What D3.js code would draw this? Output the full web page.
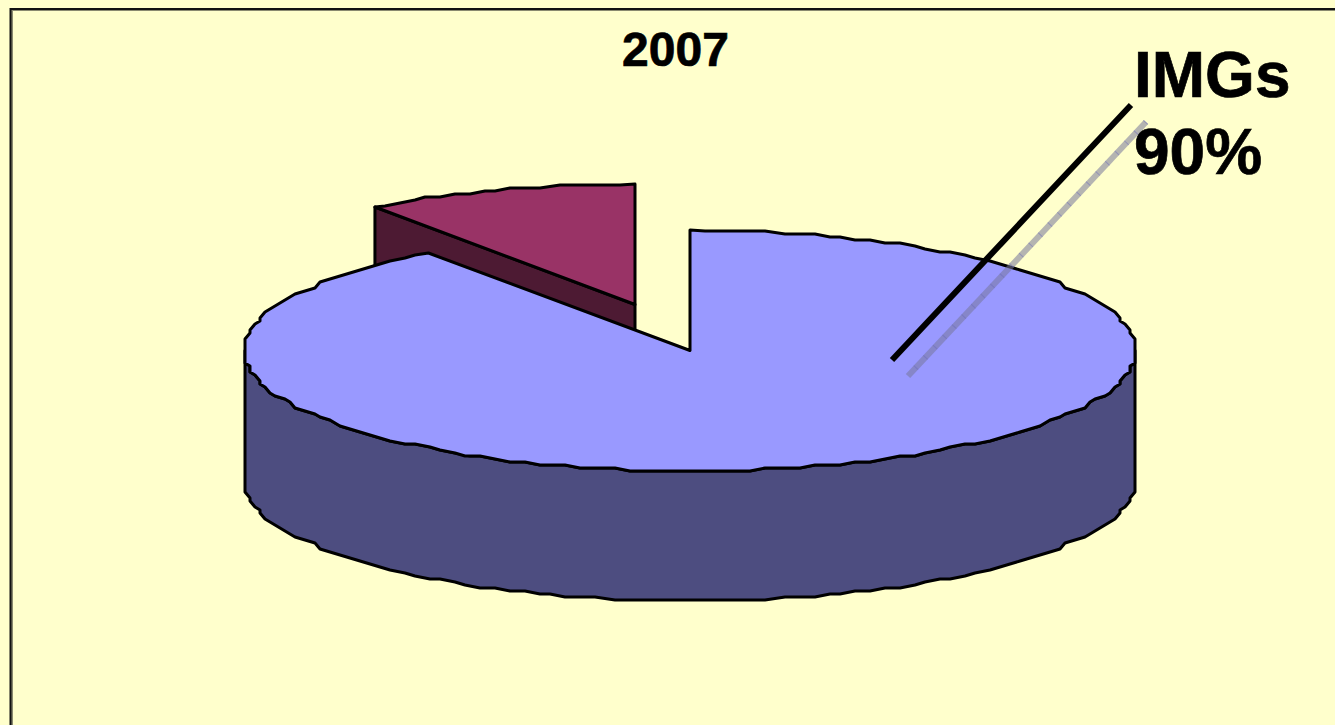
<!DOCTYPE html>
<html>
<head>
<meta charset="utf-8">
<style>
html,body{margin:0;padding:0;background:#FFFFCC;overflow:hidden}
svg{display:block}
text{font-family:"Liberation Sans",Arial,sans-serif;font-weight:bold;fill:#000;stroke:#000;stroke-width:.7px}
</style>
<script src="https://cdn.jsdelivr.net/npm/d3@7/dist/d3.min.js"></script>
</head>
<body>
<svg id="chart" width="1335" height="725"></svg>
<script>
const categories = ["IMGs", "Other"];
const shares = [90, 10];
const title = "2007";
const calloutName = "IMGs";
const calloutValue = "90%";
const topColors = ["#9999FF", "#993366"];
const sideColors = ["#4D4D80", "#4D1A33"];

const svg = d3.select("#chart");
const W = 1335, H = 725;

svg.append("rect").attr("width", W).attr("height", H).attr("fill", "#FFFFCC");
svg.append("path").attr("d", `M11.5,${H}V9.5H${W}`).attr("fill", "none").attr("stroke", "#8a8a70").attr("stroke-width", 3);
svg.append("path").attr("d", `M10.5,${H}V9H${W}`).attr("fill", "none").attr("stroke", "#111").attr("stroke-width", 2);

const slices = d3.pie().sort(null).value(d => d).startAngle(0).endAngle(2 * Math.PI)(shares);

// tilted-disc projection
const xS = d3.scaleLinear().domain([-1, 1]).range([245, 1135]);
const yS = d3.scaleLinear().domain([-1, 1]).range([471, 230]);
const depth = 130;
const explode = [[0, 0], [-55, -46]];

// coarse grid that gives the rim its low-resolution wobble
const snapX = v => Math.round(v / 5) * 5;
const snapY = v => Math.round(v / 3) * 3;
function rim(a0, a1, dy) {
  const n = Math.max(2, Math.round(Math.abs(a1 - a0) / (2 * Math.PI / 180)));
  return d3.range(n + 1).map(i => {
    const a = a0 + (a1 - a0) * i / n;
    const x = xS(Math.sin(a)), y = yS(Math.cos(a)) + dy;
    return (i === 0 || i === n) ? [x, y] : [snapX(x), snapY(y)];
  });
}
const line = d3.line().curve(d3.curveLinear);

const strokeW = 3;
function draw(sel, pts, fill) {
  sel.append("path").attr("d", line(pts) + "Z").attr("fill", fill)
    .attr("stroke", "#000").attr("stroke-width", strokeW).attr("stroke-linejoin", "round");
}

// exploded small slice first, main slice over it
[1, 0].forEach(i => {
  const s = slices[i];
  const g = svg.append("g").attr("transform", `translate(${explode[i][0]},${explode[i][1]})`);
  const apex = [xS(0), yS(0)];
  if (i === 1) {
    const e = [xS(Math.sin(s.startAngle)) + 1.5, yS(Math.cos(s.startAngle))];
    draw(g, [e, apex, [apex[0], apex[1] + depth], [e[0], e[1] + depth]], sideColors[i]);
    draw(g, [apex].concat(rim(s.startAngle, s.endAngle, 0)).map((p, k) => k === 1 ? e : p), topColors[i]);
  } else {
    const front = rim(Math.PI / 2, 3 * Math.PI / 2, 0);
    const back = rim(3 * Math.PI / 2, Math.PI / 2, depth);
    draw(g, front.concat(back), sideColors[i]);
    draw(g, [apex].concat(rim(s.startAngle, s.endAngle, 0)), topColors[i]);
  }
});

// leader shadow, then leader
const leader = [[1131, 105], [892, 360]];
const shadow = [[1146, 122], [908, 376]];
svg.append("path").attr("d", line(shadow)).attr("stroke", "#77779a").attr("stroke-opacity", 0.55)
  .attr("stroke-width", 6).attr("fill", "none");
svg.append("path").attr("d", line(shadow)).attr("stroke", "#6666bb").attr("stroke-opacity", 0.45)
  .attr("stroke-width", 6).attr("stroke-dasharray", "1 13").attr("fill", "none");
svg.append("path").attr("d", line(leader)).attr("stroke", "#000")
  .attr("stroke-width", 6).attr("fill", "none");

// texts
svg.append("text").attr("x", 675.5).attr("y", 66).attr("text-anchor", "middle")
  .attr("font-size", 48).text(title);
svg.append("text").attr("x", 1134).attr("y", 97).attr("font-size", 64).text(calloutName);
svg.append("text").attr("x", 1134).attr("y", 174).attr("font-size", 64).text(calloutValue);
</script>
</body>
</html>
